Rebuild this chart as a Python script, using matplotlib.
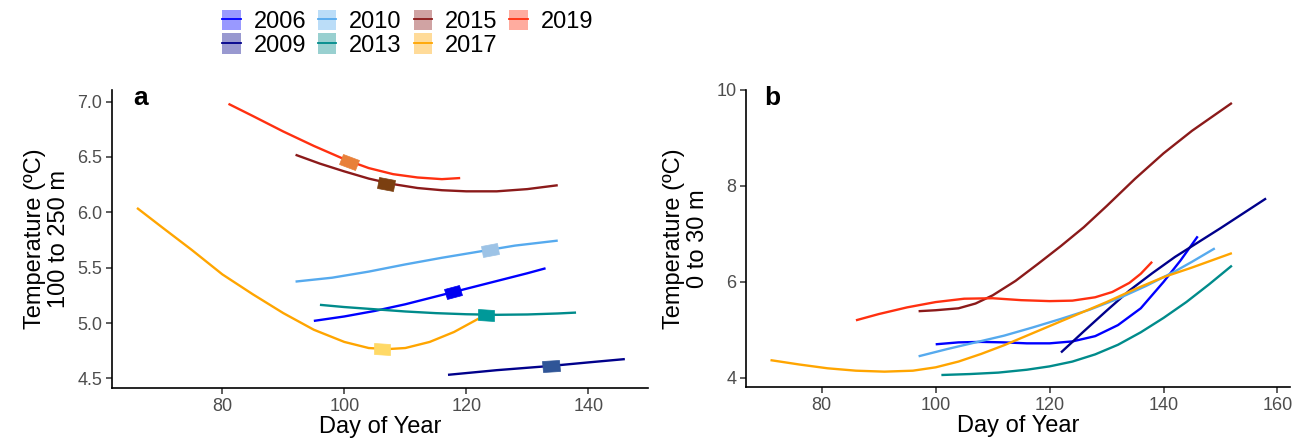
import numpy as np
import matplotlib
matplotlib.use("Agg")
import matplotlib.pyplot as plt
from matplotlib.markers import MarkerStyle
from matplotlib.transforms import Affine2D
from matplotlib.patches import Patch
from matplotlib.lines import Line2D
from matplotlib.legend_handler import HandlerTuple

plt.rcParams['font.family'] = ['Liberation Sans', 'DejaVu Sans']

years = ["2006", "2009", "2010", "2013", "2015", "2017", "2019"]
line_colors = {"2006": "#0000FF", "2009": "#00008B", "2010": "#56AAEE", "2013": "#008B8B",
               "2015": "#8B1A1A", "2017": "#FFA500", "2019": "#FF3010"}
marker_colors = {"2006": "#0000F0", "2009": "#2F5597", "2010": "#9DC3E6", "2013": "#009999",
                 "2015": "#7B3F10", "2017": "#FFD966", "2019": "#E8803A"}

# ---- Panel a: 100 to 250 m ----
a_2006_day = [95, 100, 105, 110, 115, 120, 125, 130, 133]
a_2006_temp = [5.02, 5.06, 5.11, 5.17, 5.24, 5.31, 5.38, 5.45, 5.495]
a_2009_day = [117, 125, 134, 140, 146]
a_2009_temp = [4.533, 4.575, 4.614, 4.645, 4.675]
a_2010_day = [92, 98, 104, 110, 116, 122, 128, 135]
a_2010_temp = [5.375, 5.41, 5.465, 5.53, 5.59, 5.645, 5.70, 5.745]
a_2013_day = [96, 100, 105, 110, 115, 120, 125, 130, 135, 138]
a_2013_temp = [5.165, 5.145, 5.125, 5.105, 5.09, 5.08, 5.075, 5.078, 5.087, 5.095]
a_2015_day = [92, 96, 100, 104, 108, 112, 116, 120, 125, 130, 135]
a_2015_temp = [6.52, 6.44, 6.37, 6.305, 6.255, 6.22, 6.20, 6.19, 6.19, 6.21, 6.245]
a_2017_day = [66, 70, 75, 80, 85, 90, 95, 100, 104, 107, 110, 114, 118, 122]
a_2017_temp = [6.04, 5.87, 5.66, 5.44, 5.26, 5.09, 4.94, 4.83, 4.775, 4.765, 4.775, 4.83, 4.92, 5.04]
a_2019_day = [81, 85, 90, 95, 100, 104, 108, 112, 116, 119]
a_2019_temp = [6.98, 6.87, 6.73, 6.60, 6.48, 6.40, 6.345, 6.315, 6.30, 6.31]

a_marker_day = {"2006": 117.8, "2009": 133.9, "2010": 123.9, "2013": 123.3,
                "2015": 106.8, "2017": 106.2, "2019": 100.7}
a_marker_temp = {"2006": 5.28, "2009": 4.614, "2010": 5.662, "2013": 5.075,
                 "2015": 6.257, "2017": 4.765, "2019": 6.458}

# ---- Panel b: 0 to 30 m ----
b_2006_day = [100, 104, 108, 112, 116, 120, 124, 128, 132, 136, 140, 143, 146]
b_2006_temp = [4.70, 4.74, 4.75, 4.74, 4.72, 4.72, 4.76, 4.87, 5.10, 5.45, 6.0, 6.45, 6.95]
b_2009_day = [122, 126, 130, 134, 138, 142, 146, 150, 154, 158]
b_2009_temp = [4.53, 4.97, 5.40, 5.82, 6.18, 6.52, 6.82, 7.12, 7.43, 7.74]
b_2010_day = [97, 102, 107, 112, 117, 122, 127, 132, 137, 142, 145, 149]
b_2010_temp = [4.45, 4.60, 4.74, 4.88, 5.05, 5.23, 5.42, 5.65, 5.92, 6.22, 6.42, 6.70]
b_2013_day = [101, 106, 111, 116, 120, 124, 128, 132, 136, 140, 144, 148, 152]
b_2013_temp = [4.06, 4.08, 4.11, 4.17, 4.24, 4.34, 4.49, 4.69, 4.95, 5.25, 5.58, 5.95, 6.34]
b_2015_day = [97, 100, 104, 107, 110, 114, 118, 122, 126, 130, 135, 140, 145, 152]
b_2015_temp = [5.39, 5.41, 5.45, 5.55, 5.72, 6.02, 6.38, 6.75, 7.14, 7.58, 8.15, 8.68, 9.15, 9.73]
b_2017_day = [71, 76, 81, 86, 91, 96, 100, 104, 108, 112, 116, 120, 125, 130, 135, 140, 145, 152]
b_2017_temp = [4.37, 4.28, 4.20, 4.15, 4.13, 4.15, 4.22, 4.34, 4.50, 4.68, 4.88, 5.08, 5.33, 5.58, 5.85, 6.10, 6.30, 6.60]
b_2019_day = [86, 90, 95, 100, 105, 110, 115, 120, 124, 128, 131, 134, 136, 138]
b_2019_temp = [5.20, 5.33, 5.47, 5.58, 5.65, 5.66, 5.62, 5.60, 5.61, 5.68, 5.79, 5.98, 6.17, 6.42]

panel_a = {"2006": (a_2006_day, a_2006_temp), "2009": (a_2009_day, a_2009_temp),
           "2010": (a_2010_day, a_2010_temp), "2013": (a_2013_day, a_2013_temp),
           "2015": (a_2015_day, a_2015_temp), "2017": (a_2017_day, a_2017_temp),
           "2019": (a_2019_day, a_2019_temp)}
panel_b = {"2006": (b_2006_day, b_2006_temp), "2009": (b_2009_day, b_2009_temp),
           "2010": (b_2010_day, b_2010_temp), "2013": (b_2013_day, b_2013_temp),
           "2015": (b_2015_day, b_2015_temp), "2017": (b_2017_day, b_2017_temp),
           "2019": (b_2019_day, b_2019_temp)}

W, H = 1309, 446
fig = plt.figure(figsize=(W / 100, H / 100), dpi=100)
axA = fig.add_axes([112 / W, 1 - 388 / H, (648 - 112) / W, (388 - 90) / H])
axB = fig.add_axes([746 / W, 1 - 387 / H, (1290 - 746) / W, (387 - 90) / H])

LW = 1.7
for ax, data in ((axA, panel_a), (axB, panel_b)):
    for y in years:
        d, t = data[y]
        ax.plot(d, t, color=line_colors[y], lw=LW, solid_capstyle='butt',
                solid_joinstyle='round', zorder=2)

axA.set_xlim(61.9, 149.8)
axA.set_ylim(4.414, 7.105)
axB.set_xlim(66.7, 162.2)
axB.set_ylim(3.81, 10.0)

axA.set_xticks([80, 100, 120, 140])
axA.set_yticks([4.5, 5.0, 5.5, 6.0, 6.5, 7.0])
axA.set_yticklabels(["4.5", "5.0", "5.5", "6.0", "6.5", "7.0"])
axB.set_xticks([80, 100, 120, 140, 160])
axB.set_yticks([4, 6, 8, 10])

# markers rotated along the curve (panel a)
fig.canvas.draw()
for y in years:
    d, t = panel_a[y]
    md, mt = a_marker_day[y], a_marker_temp[y]
    p0 = axA.transData.transform((md - 1.5, np.interp(md - 1.5, d, t)))
    p1 = axA.transData.transform((md + 1.5, np.interp(md + 1.5, d, t)))
    ang = np.degrees(np.arctan2(p1[1] - p0[1], p1[0] - p0[0]))
    ms = MarkerStyle('s', transform=Affine2D().scale(1.45, 1.0).rotate_deg(ang))
    axA.plot([md], [mt], linestyle='none', marker=ms, markersize=8,
             markerfacecolor=marker_colors[y], markeredgecolor=marker_colors[y],
             markeredgewidth=0.5, zorder=3)

for ax in (axA, axB):
    for s in ('top', 'right'):
        ax.spines[s].set_visible(False)
    for s in ('left', 'bottom'):
        ax.spines[s].set_linewidth(1.2)
        ax.spines[s].set_color('black')
    ax.tick_params(axis='both', direction='out', length=4, width=1.1, color='#333333',
                   labelsize=13, labelcolor='#4D4D4D', pad=3)
    ax.set_xlabel("Day of Year", fontsize=17, labelpad=1)

axA.set_ylabel("Temperature (ºC)\n100 to 250 m", fontsize=17, labelpad=5, linespacing=1.12)
axB.set_ylabel("Temperature (ºC)\n0 to 30 m", fontsize=17, labelpad=5, linespacing=1.12)
axA.text(0.04, 1.012, "a", transform=axA.transAxes, fontsize=19, fontweight='bold', va='top', ha='left')
axB.text(0.033, 1.015, "b", transform=axB.transAxes, fontsize=19, fontweight='bold', va='top', ha='left')

handles = []
for y in years:
    handles.append((Patch(facecolor=line_colors[y], alpha=0.4, edgecolor='none'),
                    Line2D([], [], color=line_colors[y], lw=1.3)))
fig.legend(handles, years, handler_map={tuple: HandlerTuple(ndivide=1, pad=0)},
           ncol=4, loc='upper left', bbox_to_anchor=(215 / W, 1 - 3 / H), frameon=False,
           fontsize=17, handlelength=0.78, handleheight=0.95, handletextpad=0.55,
           columnspacing=0.5, labelspacing=0.0, borderaxespad=0, borderpad=0.3)

fig.savefig("out.png", dpi=100)
